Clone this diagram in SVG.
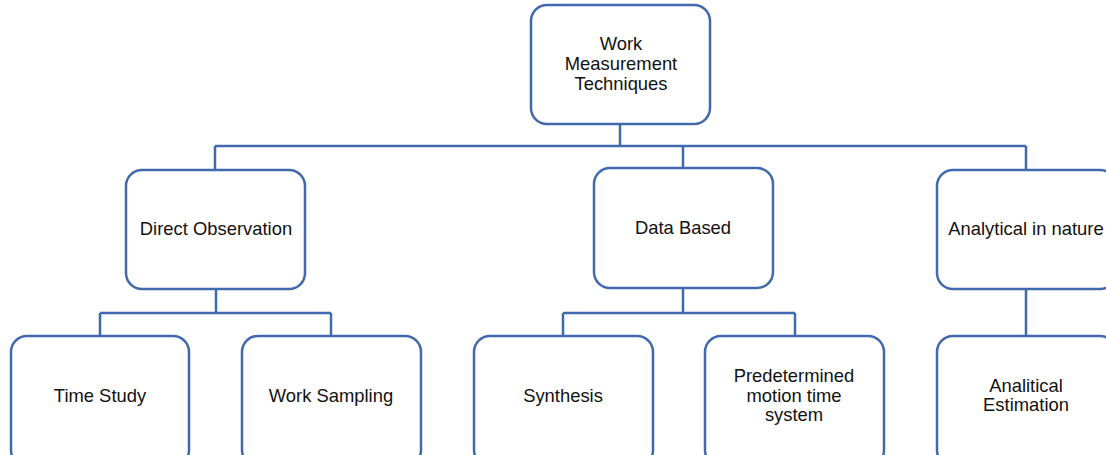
<svg xmlns="http://www.w3.org/2000/svg" width="1106" height="455" viewBox="0 0 1106 455">
<style>
.box{fill:#fff;stroke:#4169AE;stroke-width:2.5}
.ln{fill:none;stroke:#4169AE;stroke-width:2.5}
text{font-family:"Liberation Sans",Arial,sans-serif;font-size:18.4px;fill:#111;text-anchor:middle}
</style>
<rect width="1106" height="455" fill="#fff"/>
<g id="connectors">
<path class="ln" d="M620,124V146M215,146H1026M215,146V170M683,146V168M1026,146V170"/>
<path class="ln" d="M216,289V313M100,313H331M100,313V336M331,313V336"/>
<path class="ln" d="M683,288V313M563,313H795M563,313V336M795,313V336"/>
<path class="ln" d="M1026,289V336"/>
</g>
<g id="root"><rect class="box" x="531" y="5" width="179" height="119" rx="16"/>
<text x="621" y="50">Work</text><text x="621" y="70">Measurement</text><text x="621" y="90">Techniques</text></g>
<g id="direct"><rect class="box" x="126" y="170" width="179" height="119" rx="16"/><text x="216" y="235">Direct Observation</text></g>
<g id="data"><rect class="box" x="594" y="168" width="179" height="120" rx="16"/><text x="683" y="234">Data Based</text></g>
<g id="analytical"><rect class="box" x="937" y="170" width="179" height="119" rx="16"/><text x="1026" y="235">Analytical in nature</text></g>
<g id="time"><rect class="box" x="11" y="336" width="178" height="130" rx="16"/><text x="100" y="402">Time Study</text></g>
<g id="sampling"><rect class="box" x="242" y="336" width="179" height="130" rx="16"/><text x="331" y="402">Work Sampling</text></g>
<g id="synthesis"><rect class="box" x="474" y="336" width="179" height="130" rx="16"/><text x="563" y="402">Synthesis</text></g>
<g id="pmts"><rect class="box" x="705" y="336" width="179" height="130" rx="16"/><text x="794" y="382">Predetermined</text><text x="794" y="402">motion time</text><text x="794" y="421">system</text></g>
<g id="estimation"><rect class="box" x="937" y="336" width="179" height="130" rx="16"/><text x="1026" y="392">Analitical</text><text x="1026" y="411">Estimation</text></g>
</svg>
